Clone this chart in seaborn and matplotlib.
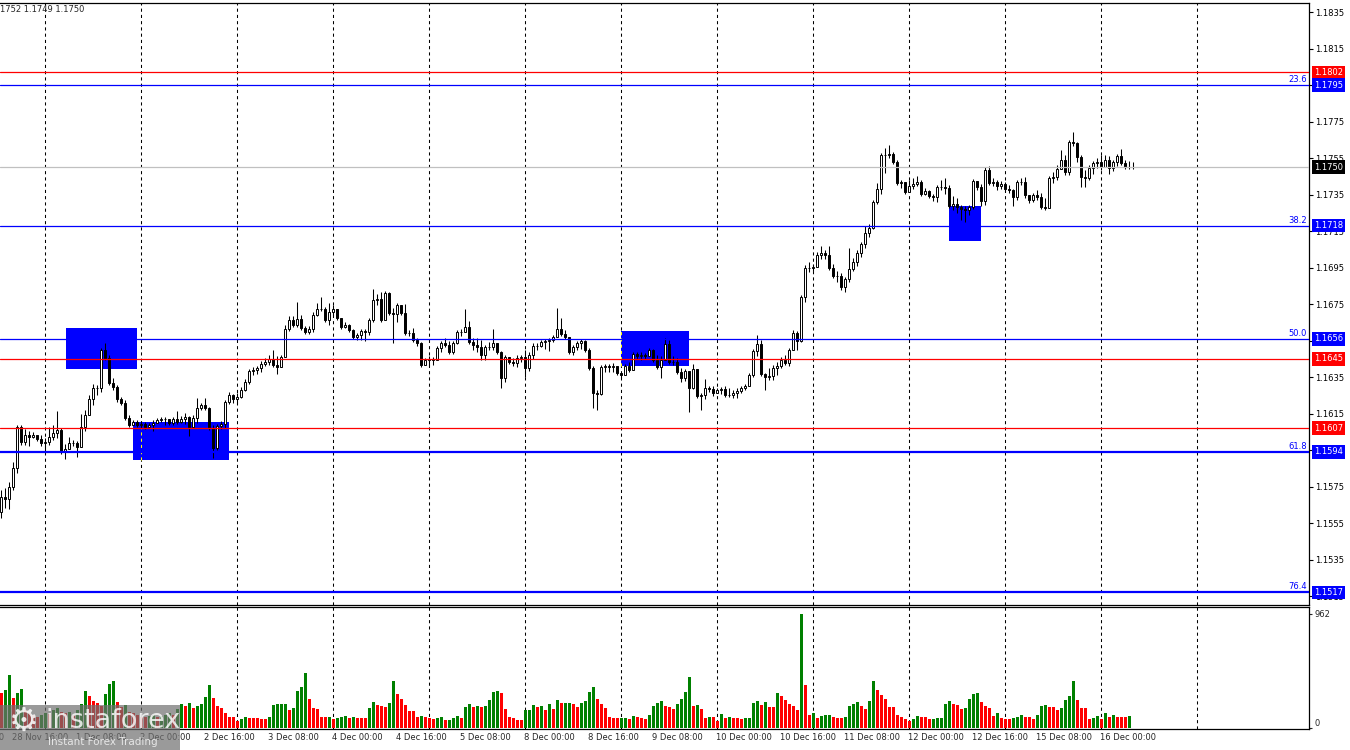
import matplotlib
matplotlib.use("Agg")
import matplotlib.pyplot as plt
import matplotlib.transforms as mtransforms
from matplotlib.patches import Rectangle
import numpy as np
import pandas as pd
import seaborn as sns

# EURUSD H1, values (bar 0 = 28 Nov 13:00, bar 11 = 1 Dec 00:00)
first_open = 1.15610
closes = [
    1.15692, 1.15681, 1.15747, 1.15851, 1.16076, 1.15994, 1.16032, 1.16021, 1.16032, 1.16010,
    1.15988, 1.15994, 1.16021, 1.16043, 1.16060, 1.15944, 1.15956, 1.15988, 1.15988, 1.15966,
    1.16076, 1.16142, 1.16230, 1.16290, 1.16290, 1.16498, 1.16454, 1.16317, 1.16295, 1.16230,
    1.16208, 1.16125, 1.16087, 1.16103, 1.16087, 1.16093, 1.16076, 1.16087, 1.16098, 1.16114,
    1.16120, 1.16120, 1.16098, 1.16120, 1.16103, 1.16120, 1.16131, 1.16076, 1.16125, 1.16180,
    1.16197, 1.16180, 1.16071, 1.15961, 1.16081, 1.16093, 1.16213, 1.16251, 1.16230, 1.16240,
    1.16279, 1.16323, 1.16383, 1.16388, 1.16399, 1.16421, 1.16432, 1.16449, 1.16416, 1.16405,
    1.16460, 1.16613, 1.16662, 1.16635, 1.16668, 1.16619, 1.16597, 1.16613, 1.16690, 1.16723,
    1.16723, 1.16662, 1.16706, 1.16723, 1.16673, 1.16624, 1.16635, 1.16608, 1.16569, 1.16580,
    1.16602, 1.16597, 1.16662, 1.16772, 1.16777, 1.16662, 1.16810, 1.16701, 1.16695, 1.16745,
    1.16701, 1.16591, 1.16591, 1.16553, 1.16536, 1.16416, 1.16443, 1.16449, 1.16443, 1.16509,
    1.16536, 1.16525, 1.16487, 1.16536, 1.16597, 1.16597, 1.16624, 1.16542, 1.16525, 1.16514,
    1.16471, 1.16514, 1.16514, 1.16536, 1.16487, 1.16345, 1.16460, 1.16432, 1.16427, 1.16454,
    1.16460, 1.16399, 1.16471, 1.16520, 1.16520, 1.16542, 1.16547, 1.16553, 1.16569, 1.16613,
    1.16586, 1.16569, 1.16487, 1.16514, 1.16536, 1.16547, 1.16498, 1.16399, 1.16262, 1.16257,
    1.16405, 1.16410, 1.16405, 1.16410, 1.16372, 1.16361, 1.16410, 1.16388, 1.16476, 1.16465,
    1.16471, 1.16465, 1.16498, 1.16443, 1.16405, 1.16443, 1.16531, 1.16432, 1.16432, 1.16377,
    1.16345, 1.16383, 1.16290, 1.16394, 1.16246, 1.16251, 1.16290, 1.16284, 1.16262, 1.16279,
    1.16284, 1.16251, 1.16251, 1.16262, 1.16273, 1.16290, 1.16301, 1.16361, 1.16492, 1.16531,
    1.16366, 1.16350, 1.16355, 1.16399, 1.16410, 1.16443, 1.16427, 1.16498, 1.16591, 1.16547,
    1.16788, 1.16947, 1.16947, 1.16953, 1.17019, 1.17030, 1.17019, 1.16947, 1.16904, 1.16904,
    1.16843, 1.16887, 1.16942, 1.16980, 1.17030, 1.17079, 1.17139, 1.17167, 1.17309, 1.17380,
    1.17567, 1.17567, 1.17572, 1.17528, 1.17413, 1.17419, 1.17364, 1.17397, 1.17408, 1.17419,
    1.17353, 1.17369, 1.17342, 1.17336, 1.17391, 1.17391, 1.17386, 1.17287, 1.17298, 1.17282,
    1.17271, 1.17265, 1.17282, 1.17424, 1.17391, 1.17314, 1.17484, 1.17413, 1.17419, 1.17397,
    1.17408, 1.17380, 1.17375, 1.17336, 1.17419, 1.17419, 1.17347, 1.17320, 1.17347, 1.17336,
    1.17282, 1.17276, 1.17441, 1.17446, 1.17490, 1.17539, 1.17473, 1.17638, 1.17632, 1.17556,
    1.17446, 1.17441, 1.17495, 1.17523, 1.17528, 1.17501, 1.17539, 1.17495, 1.17528, 1.17561,
    1.17523, 1.17501, 1.17501, 1.17500,
]
highs = [
    1.15731, 1.15742, 1.15775, 1.15884, 1.16087, 1.16087, 1.16065, 1.16054, 1.16049, 1.16027,
    1.16032, 1.16016, 1.16076, 1.16087, 1.16164, 1.16071, 1.15983, 1.16021, 1.16005, 1.15999,
    1.16147, 1.16169, 1.16251, 1.16312, 1.16306, 1.16509, 1.16536, 1.16471, 1.16345, 1.16306,
    1.16240, 1.16224, 1.16142, 1.16114, 1.16114, 1.16109, 1.16103, 1.16098, 1.16114, 1.16125,
    1.16131, 1.16131, 1.16114, 1.16131, 1.16164, 1.16136, 1.16153, 1.16136, 1.16142, 1.16235,
    1.16208, 1.16235, 1.16186, 1.16087, 1.16093, 1.16109, 1.16224, 1.16268, 1.16257, 1.16262,
    1.16295, 1.16339, 1.16394, 1.16405, 1.16410, 1.16438, 1.16454, 1.16471, 1.16498, 1.16465,
    1.16471, 1.16635, 1.16684, 1.16684, 1.16761, 1.16690, 1.16630, 1.16630, 1.16706, 1.16756,
    1.16788, 1.16734, 1.16756, 1.16745, 1.16723, 1.16673, 1.16651, 1.16640, 1.16613, 1.16591,
    1.16613, 1.16613, 1.16673, 1.16832, 1.16805, 1.16816, 1.16821, 1.16816, 1.16728, 1.16756,
    1.16745, 1.16750, 1.16608, 1.16619, 1.16564, 1.16542, 1.16454, 1.16465, 1.16460, 1.16520,
    1.16547, 1.16564, 1.16547, 1.16547, 1.16608, 1.16613, 1.16723, 1.16657, 1.16564, 1.16564,
    1.16553, 1.16525, 1.16542, 1.16613, 1.16531, 1.16492, 1.16471, 1.16460, 1.16454, 1.16471,
    1.16471, 1.16498, 1.16487, 1.16536, 1.16536, 1.16553, 1.16558, 1.16564, 1.16580, 1.16728,
    1.16673, 1.16608, 1.16564, 1.16525, 1.16547, 1.16558, 1.16553, 1.16509, 1.16410, 1.16279,
    1.16416, 1.16421, 1.16421, 1.16427, 1.16394, 1.16372, 1.16421, 1.16432, 1.16487, 1.16487,
    1.16487, 1.16482, 1.16509, 1.16503, 1.16471, 1.16465, 1.16564, 1.16553, 1.16465, 1.16454,
    1.16399, 1.16394, 1.16372, 1.16421, 1.16355, 1.16262, 1.16339, 1.16301, 1.16301, 1.16290,
    1.16295, 1.16301, 1.16290, 1.16279, 1.16290, 1.16301, 1.16312, 1.16372, 1.16503, 1.16580,
    1.16553, 1.16372, 1.16399, 1.16416, 1.16432, 1.16460, 1.16471, 1.16509, 1.16608, 1.16602,
    1.16799, 1.16964, 1.16980, 1.16969, 1.17035, 1.17068, 1.17046, 1.17068, 1.16969, 1.16931,
    1.16920, 1.16898, 1.17057, 1.17002, 1.17046, 1.17090, 1.17178, 1.17189, 1.17320, 1.17413,
    1.17578, 1.17605, 1.17621, 1.17583, 1.17539, 1.17430, 1.17419, 1.17430, 1.17441, 1.17451,
    1.17430, 1.17386, 1.17375, 1.17353, 1.17402, 1.17430, 1.17441, 1.17402, 1.17342, 1.17331,
    1.17293, 1.17287, 1.17293, 1.17435, 1.17424, 1.17408, 1.17501, 1.17506, 1.17441, 1.17430,
    1.17424, 1.17419, 1.17402, 1.17380, 1.17430, 1.17441, 1.17446, 1.17347, 1.17358, 1.17375,
    1.17358, 1.17331, 1.17451, 1.17473, 1.17512, 1.17594, 1.17567, 1.17649, 1.17693, 1.17638,
    1.17567, 1.17484, 1.17512, 1.17534, 1.17550, 1.17567, 1.17567, 1.17561, 1.17539, 1.17572,
    1.17599, 1.17539, 1.17534, 1.17528,
]
lows = [
    1.15577, 1.15632, 1.15627, 1.15731, 1.15824, 1.15977, 1.15977, 1.15972, 1.16016, 1.15999,
    1.15972, 1.15939, 1.15977, 1.16005, 1.16016, 1.15928, 1.15901, 1.15966, 1.15972, 1.15912,
    1.15972, 1.16054, 1.16142, 1.16197, 1.16251, 1.16268, 1.16443, 1.16306, 1.16279, 1.16213,
    1.16197, 1.16114, 1.16076, 1.16087, 1.16076, 1.16071, 1.16065, 1.16076, 1.16054, 1.16098,
    1.16103, 1.16087, 1.16087, 1.16087, 1.16093, 1.16098, 1.16093, 1.16027, 1.16071, 1.16098,
    1.16169, 1.16169, 1.16060, 1.15906, 1.15950, 1.16065, 1.16071, 1.16202, 1.16208, 1.16202,
    1.16235, 1.16273, 1.16312, 1.16361, 1.16366, 1.16377, 1.16410, 1.16416, 1.16405, 1.16366,
    1.16432, 1.16460, 1.16602, 1.16624, 1.16624, 1.16608, 1.16586, 1.16586, 1.16597, 1.16684,
    1.16712, 1.16651, 1.16635, 1.16690, 1.16662, 1.16613, 1.16619, 1.16597, 1.16558, 1.16553,
    1.16553, 1.16547, 1.16580, 1.16651, 1.16745, 1.16651, 1.16668, 1.16690, 1.16536, 1.16651,
    1.16690, 1.16580, 1.16575, 1.16542, 1.16520, 1.16405, 1.16432, 1.16410, 1.16416, 1.16443,
    1.16487, 1.16514, 1.16476, 1.16476, 1.16531, 1.16575, 1.16597, 1.16531, 1.16498, 1.16487,
    1.16443, 1.16443, 1.16498, 1.16498, 1.16476, 1.16290, 1.16323, 1.16421, 1.16410, 1.16405,
    1.16432, 1.16350, 1.16383, 1.16449, 1.16498, 1.16514, 1.16503, 1.16492, 1.16542, 1.16569,
    1.16575, 1.16558, 1.16476, 1.16471, 1.16498, 1.16503, 1.16487, 1.16388, 1.16180, 1.16169,
    1.16251, 1.16377, 1.16377, 1.16377, 1.16361, 1.16345, 1.16361, 1.16377, 1.16388, 1.16449,
    1.16443, 1.16449, 1.16465, 1.16432, 1.16394, 1.16345, 1.16443, 1.16421, 1.16416, 1.16366,
    1.16323, 1.16328, 1.16158, 1.16284, 1.16235, 1.16169, 1.16230, 1.16268, 1.16246, 1.16262,
    1.16257, 1.16240, 1.16240, 1.16235, 1.16235, 1.16262, 1.16279, 1.16301, 1.16350, 1.16465,
    1.16355, 1.16279, 1.16334, 1.16334, 1.16361, 1.16399, 1.16416, 1.16410, 1.16498, 1.16498,
    1.16542, 1.16761, 1.16925, 1.16931, 1.16958, 1.16997, 1.16997, 1.16936, 1.16893, 1.16871,
    1.16827, 1.16816, 1.16871, 1.16931, 1.16958, 1.17008, 1.17057, 1.17117, 1.17161, 1.17298,
    1.17353, 1.17468, 1.17550, 1.17517, 1.17402, 1.17386, 1.17353, 1.17364, 1.17380, 1.17397,
    1.17342, 1.17347, 1.17331, 1.17314, 1.17309, 1.17375, 1.17353, 1.17276, 1.17265, 1.17249,
    1.17210, 1.17199, 1.17238, 1.17271, 1.17375, 1.17287, 1.17293, 1.17402, 1.17397, 1.17375,
    1.17380, 1.17364, 1.17358, 1.17287, 1.17320, 1.17402, 1.17331, 1.17304, 1.17309, 1.17320,
    1.17271, 1.17265, 1.17293, 1.17413, 1.17430, 1.17490, 1.17457, 1.17457, 1.17616, 1.17528,
    1.17391, 1.17391, 1.17430, 1.17462, 1.17495, 1.17484, 1.17506, 1.17462, 1.17479, 1.17506,
    1.17512, 1.17490, 1.17490, 1.17490,
]
volumes = [
    298, 320, 447, 256, 292, 329, 152, 124, 110, 96,
    110, 124, 118, 152, 171, 138, 124, 138, 110, 152,
    202, 315, 273, 230, 208, 185, 287, 371, 399, 222,
    180, 194, 138, 124, 110, 96, 90, 101, 110, 96,
    101, 110, 124, 110, 157, 202, 185, 208, 171, 185,
    202, 264, 362, 256, 185, 166, 129, 96, 90, 62,
    76, 90, 84, 83, 82, 79, 73, 90, 194, 202,
    203, 204, 152, 166, 312, 343, 464, 244, 169, 160,
    93, 90, 96, 73, 81, 90, 101, 84, 96, 87,
    86, 85, 169, 222, 191, 185, 177, 214, 399, 287,
    244, 194, 143, 142, 96, 101, 96, 87, 73, 87,
    93, 67, 70, 81, 101, 87, 174, 200, 180, 185,
    180, 186, 236, 303, 312, 295, 160, 96, 87, 67,
    66, 152, 153, 194, 180, 185, 152, 202, 163, 236,
    208, 209, 210, 202, 180, 214, 228, 303, 343, 244,
    202, 169, 96, 84, 83, 84, 85, 76, 101, 90,
    84, 76, 107, 185, 208, 228, 185, 180, 163, 202,
    244, 303, 430, 185, 194, 163, 84, 96, 90, 62,
    118, 84, 93, 84, 81, 76, 81, 87, 214, 228,
    194, 219, 177, 176, 295, 270, 236, 202, 185, 152,
    962, 362, 110, 126, 84, 101, 107, 110, 90, 84,
    83, 93, 185, 202, 219, 185, 163, 228, 396, 320,
    278, 244, 177, 176, 110, 90, 76, 59, 76, 101,
    93, 92, 76, 77, 84, 85, 202, 228, 202, 194,
    160, 169, 244, 287, 295, 219, 185, 169, 101, 126,
    84, 76, 75, 84, 93, 110, 93, 92, 76, 110,
    185, 194, 177, 176, 152, 169, 236, 270, 396, 236,
    169, 168, 76, 84, 101, 76, 126, 93, 110, 93,
    92, 91, 101, 3,
]

time_labels = ["28 Nov 00:00", "28 Nov 16:00", "1 Dec 08:00", "2 Dec 00:00", "2 Dec 16:00",
               "3 Dec 08:00", "4 Dec 00:00", "4 Dec 16:00", "5 Dec 08:00", "8 Dec 00:00",
               "8 Dec 16:00", "9 Dec 08:00", "10 Dec 00:00", "10 Dec 16:00", "11 Dec 08:00",
               "12 Dec 00:00", "12 Dec 16:00", "15 Dec 08:00", "16 Dec 00:00"]
time_label_bars = [-13, 3, 19, 35, 51, 67, 83, 99, 115, 131, 147, 163, 179, 195, 211, 227, 243, 259, 275]
midnight_bars = [11, 35, 59, 83, 107, 131, 155, 179, 203, 227, 251, 275, 299]

price_ticks = [1.1515, 1.1535, 1.1555, 1.1575, 1.1595, 1.1615, 1.1635, 1.1655, 1.1675,
               1.1695, 1.1715, 1.1735, 1.1755, 1.1775, 1.1795, 1.1815, 1.1835]
fibo_levels = [1.1795, 1.1718, 1.1656, 1.1594, 1.1517]
fibo_names = ["23.6", "38.2", "50.0", "61.8", "76.4"]
red_levels = [1.1802, 1.1645, 1.1607]
last_price = 1.1750
volume_max = 962
header_text = "1752 1.1749 1.1750"

zone_start = [16.2, 33.0, 155.0, 237.0]
zone_end = [34.0, 57.0, 172.0, 245.0]
zone_top = [1.16619, 1.16103, 1.16602, 1.17287]
zone_bottom = [1.16394, 1.15895, 1.16410, 1.17095]

# ---------------------------------------------------------------
sns.set_style("white")
plt.rcParams["font.family"] = ["DejaVu Sans"]

df = pd.DataFrame({"close": closes, "high": highs, "low": lows, "volume": volumes})
df["bar"] = np.arange(len(df))
df["open"] = [first_open] + closes[:-1]
df["up"] = df["close"] >= df["open"]
# MT4 volumes: green when volume grows against the previous bar
df["vol_dir"] = np.where(df["volume"].diff().fillna(-1) > 0, "rise", "fall")

W, H = 1350, 750
fig = plt.figure(figsize=(W / 100, H / 100), dpi=100)
ax = fig.add_axes([0, 1 - 605 / H, 1309 / W, 602 / H])
axv = fig.add_axes([0, 1 - 729 / H, 1309 / W, 122 / H])

x_lo, x_hi = -0.25, 327.0
BLUE, RED = "#0000FF", "#FF0000"

# day separators
for a in (ax, axv):
    for b in midnight_bars:
        a.axvline(b, color="black", lw=0.75, ls=(0, (3, 3)), zorder=1)

# blue zones (background objects)
for s, e, t, b in zip(zone_start, zone_end, zone_top, zone_bottom):
    ax.add_patch(Rectangle((s, b), e - s, t - b, facecolor=BLUE, edgecolor="none", zorder=2))
    for g in midnight_bars:
        if s <= g <= e:
            ax.vlines(g, b, t, color="#FFFF00", lw=0.75, ls=(0, (3, 3)), zorder=2.1)

# candles
ax.vlines(df["bar"], df["low"], df["high"], color="black", lw=0.75, zorder=3)
body_lo = df[["open", "close"]].min(axis=1)
body_h = (df["close"] - df["open"]).abs().clip(lower=0.00002)
ax.bar(df["bar"], body_h, bottom=body_lo, width=0.6,
       color=np.where(df["up"], "white", "black"), edgecolor="black", linewidth=0.7, zorder=4)

# horizontal levels
ax.axhline(last_price, color="#C0C0C0", lw=0.9, zorder=5)
for p in red_levels:
    ax.axhline(p, color=RED, lw=0.9, zorder=5)
fibo_widths = [0.9, 0.9, 0.9, 1.6, 1.6]
for p, lw in zip(fibo_levels, fibo_widths):
    ax.axhline(p, color=BLUE, lw=lw, zorder=5)

trans = mtransforms.blended_transform_factory(ax.transAxes, ax.transData)
for p, name in zip(fibo_levels, fibo_names):
    ax.text(0.9985, p + 0.00006, name, transform=trans, ha="right", va="bottom",
            fontsize=6, color=BLUE, zorder=6)

tags = [(p, RED) for p in red_levels] + [(p, BLUE) for p in fibo_levels] + [(last_price, "black")]
for p, c in tags:
    ax.text(1.0037, p, f"{p:.4f}", transform=trans, ha="left", va="center", fontsize=6,
            color="white", clip_on=False, zorder=10,
            bbox=dict(boxstyle="square,pad=0.28", facecolor=c, edgecolor="none"))

# tick labels that sit fully under a level tag are left blank, as on the chart
covered = [1.1795, 1.1655, 1.1595]
ax.set_xlim(x_lo, x_hi)
ax.set_ylim(1.15101, 1.18400)
ax.set_xticks([])
ax.yaxis.tick_right()
ax.set_yticks(price_ticks)
ax.set_yticklabels(["" if t in covered else f"{t:.4f}" for t in price_ticks])
ax.tick_params(axis="y", direction="out", length=3, width=0.8, labelsize=6, pad=1.5, colors="black")
for side in ("top", "right", "bottom"):
    ax.spines[side].set_linewidth(0.9)
    ax.spines[side].set_color("black")
ax.spines["left"].set_visible(False)

# volumes
sns.barplot(data=df, x="bar", y="volume", hue="vol_dir",
            palette={"rise": "#008000", "fall": "#FF0000"}, native_scale=True,
            width=0.75, dodge=False, saturation=1, errorbar=None, legend=False,
            linewidth=0, ax=axv)
axv.set_xlim(x_lo, x_hi)
axv.set_ylim(-8, 1021)
axv.set_xlabel("")
axv.set_ylabel("")
axv.set_xticks([])
axv.yaxis.tick_right()
axv.set_yticks([0, volume_max])
axv.set_yticklabels(["0", str(volume_max)])
axv.tick_params(axis="y", direction="out", length=2, width=0.8, labelsize=6, pad=2)
axv.get_yticklabels()[0].set_va("bottom")
for side in ("top", "right", "bottom"):
    axv.spines[side].set_linewidth(0.9)
    axv.spines[side].set_color("black")
axv.spines["left"].set_visible(False)

tv = mtransforms.blended_transform_factory(axv.transData, axv.transAxes)
for b, lab in zip(time_label_bars, time_labels):
    axv.text(b - 0.25, -0.035, lab, transform=tv, ha="left", va="top", fontsize=6,
             clip_on=False)

fig.text(0, 1 - 10 / H, header_text, fontsize=6, ha="left", va="center")

# watermark
fig.patches.append(Rectangle((0, 0), 180 / W, 45 / H, transform=fig.transFigure,
                             facecolor="#707070", edgecolor="none", alpha=0.7, zorder=20))
fig.text(24 / W, 1 - 721 / H, "\u2699", fontsize=24, color="white", alpha=0.85,
         ha="center", va="center", zorder=21)
fig.text(45 / W, 1 - 721 / H, "instaforex", fontsize=19.5, color="white", alpha=0.8,
         ha="left", va="center", zorder=21)
fig.text(48 / W, 1 - 742 / H, "Instant Forex Trading", fontsize=7.5, color="#e6e6e6",
         ha="left", va="center", zorder=21)

fig.savefig("out.png", dpi=100, facecolor="white")
